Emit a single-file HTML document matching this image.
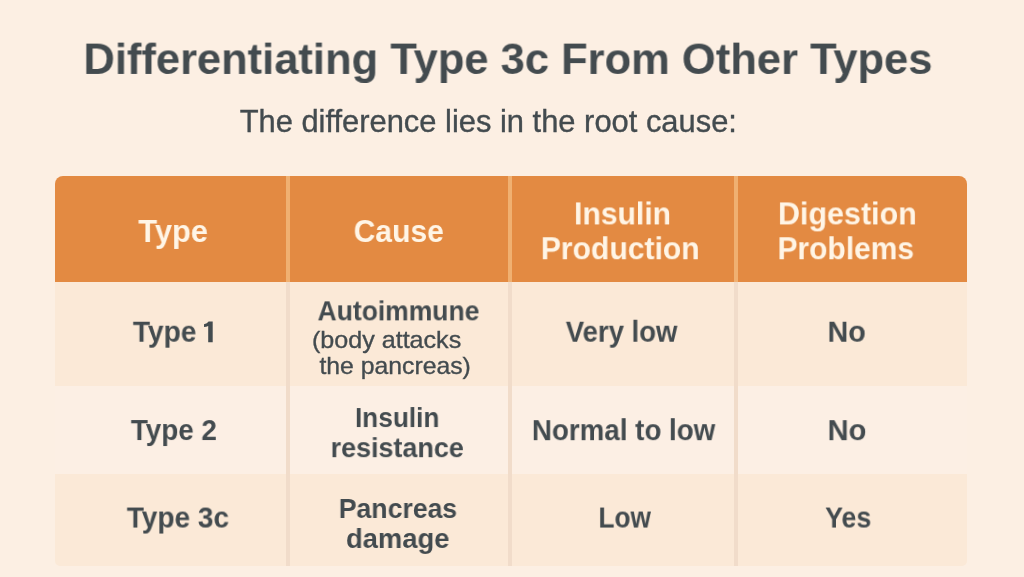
<!DOCTYPE html>
<html><head><meta charset="utf-8">
<style>
html,body{margin:0;padding:0;}
body{width:1024px;height:577px;overflow:hidden;background:#fcefe3;font-family:"Liberation Sans",sans-serif;position:relative;}
.t{position:absolute;left:0;top:0;will-change:transform;filter:blur(0.35px);white-space:nowrap;line-height:1;transform-origin:0 0;}
.d{color:#434b4f;}
.w{color:#fff5e6;}
#tbl{position:absolute;left:55px;top:176px;width:912px;height:389.5px;border-radius:8px 8px 5px 5px;overflow:hidden;filter:blur(0.4px);}
#hdr{position:absolute;left:0;top:0;width:912px;height:106px;background:#e38a42;}
.r{position:absolute;left:0;width:912px;}
#r1{top:106px;height:104px;background:#fbe9d7;}
#r2{top:210px;height:88px;background:#fcefe4;}
#r3{top:298px;height:92px;background:#fbe9d7;}
.vh{position:absolute;top:0;width:4px;height:106px;background:#f0b071;}
.vb{position:absolute;top:106px;width:3.6px;height:284px;background:#f1dcca;}
svg{position:absolute;left:0;top:0;filter:blur(0.35px);}
</style></head><body>
<div id="tbl">
<div id="hdr"></div>
<div id="r1" class="r"></div><div id="r2" class="r"></div><div id="r3" class="r"></div>
<div class="vh" style="left:231px"></div><div class="vh" style="left:453px"></div><div class="vh" style="left:679px"></div>
<div class="vb" style="left:231.4px"></div><div class="vb" style="left:453.4px"></div><div class="vb" style="left:679.3px"></div>
</div>
<svg width="1024" height="577" viewBox="0 0 1024 577"><path d="M204 324.2 Q207.2 323.6 208.6 321.6 L212.7 321.6 L212.7 342.2 L208.2 342.2 L208.2 326.0 Q206.4 326.9 204 327.0 Z" fill="#434b4f"/></svg>
<div class="t d" style="font-size:43.5px;font-weight:bold;transform:translate(83.39px,38.70px) scale(0.9999,0.9770)">Differentiating Type 3c From Other Types</div>
<div class="t d" style="font-size:30.5px;font-weight:normal;-webkit-text-stroke:0.35px currentColor;transform:translate(239.63px,105.95px) scale(1.0125,1.0000)">The difference lies in the root cause:</div>
<div class="t w" style="font-size:32px;font-weight:bold;transform:translate(138.29px,214.95px) scale(0.9635,1.0000)">Type</div>
<div class="t w" style="font-size:32px;font-weight:bold;transform:translate(353.68px,214.95px) scale(0.9383,1.0000)">Cause</div>
<div class="t w" style="font-size:32px;font-weight:bold;transform:translate(574.02px,197.40px) scale(0.9408,1.0000)">Insulin</div>
<div class="t w" style="font-size:32px;font-weight:bold;transform:translate(540.81px,232.20px) scale(0.9404,1.0000)">Production</div>
<div class="t w" style="font-size:32px;font-weight:bold;transform:translate(778.00px,197.40px) scale(0.9517,1.0000)">Digestion</div>
<div class="t w" style="font-size:32px;font-weight:bold;transform:translate(777.54px,232.20px) scale(0.9364,1.0000)">Problems</div>
<div class="t d" style="font-size:29.5px;font-weight:bold;transform:translate(132.89px,316.70px) scale(0.9531,1.0000)">Type</div>
<div class="t d" style="font-size:29.5px;font-weight:bold;transform:translate(130.87px,415.05px) scale(0.9433,1.0000)">Type 2</div>
<div class="t d" style="font-size:29.5px;font-weight:bold;transform:translate(126.80px,502.55px) scale(0.9497,1.0000)">Type 3c</div>
<div class="t d" style="font-size:28.3px;font-weight:bold;transform:translate(317.54px,296.35px) scale(0.9356,1.0000)">Autoimmune</div>
<div class="t d" style="font-size:24px;font-weight:normal;-webkit-text-stroke:0.35px currentColor;transform:translate(311.95px,327.80px) scale(1.0458,1.0000)">(body attacks</div>
<div class="t d" style="font-size:24px;font-weight:normal;-webkit-text-stroke:0.35px currentColor;transform:translate(319.48px,353.50px) scale(1.0312,1.0000)">the pancreas)</div>
<div class="t d" style="font-size:28.3px;font-weight:bold;transform:translate(355.00px,403.05px) scale(0.9247,1.0000)">Insulin</div>
<div class="t d" style="font-size:28.3px;font-weight:bold;transform:translate(330.62px,433.15px) scale(0.9513,1.0000)">resistance</div>
<div class="t d" style="font-size:28.3px;font-weight:bold;transform:translate(338.78px,493.95px) scale(0.9405,1.0000)">Pancreas</div>
<div class="t d" style="font-size:28.3px;font-weight:bold;transform:translate(346.04px,523.95px) scale(0.9661,1.0000)">damage</div>
<div class="t d" style="font-size:29.5px;font-weight:bold;transform:translate(565.75px,316.70px) scale(0.9326,1.0000)">Very low</div>
<div class="t d" style="font-size:29.5px;font-weight:bold;transform:translate(531.91px,415.15px) scale(0.9403,1.0000)">Normal to low</div>
<div class="t d" style="font-size:29.5px;font-weight:bold;transform:translate(598.46px,502.55px) scale(0.8900,1.0000)">Low</div>
<div class="t d" style="font-size:29.5px;font-weight:bold;transform:translate(827.55px,316.70px) scale(0.9727,1.0000)">No</div>
<div class="t d" style="font-size:29.5px;font-weight:bold;transform:translate(827.53px,415.15px) scale(0.9893,1.0000)">No</div>
<div class="t d" style="font-size:29.5px;font-weight:bold;transform:translate(825.16px,502.55px) scale(0.9052,1.0000)">Yes</div>
</body></html>
